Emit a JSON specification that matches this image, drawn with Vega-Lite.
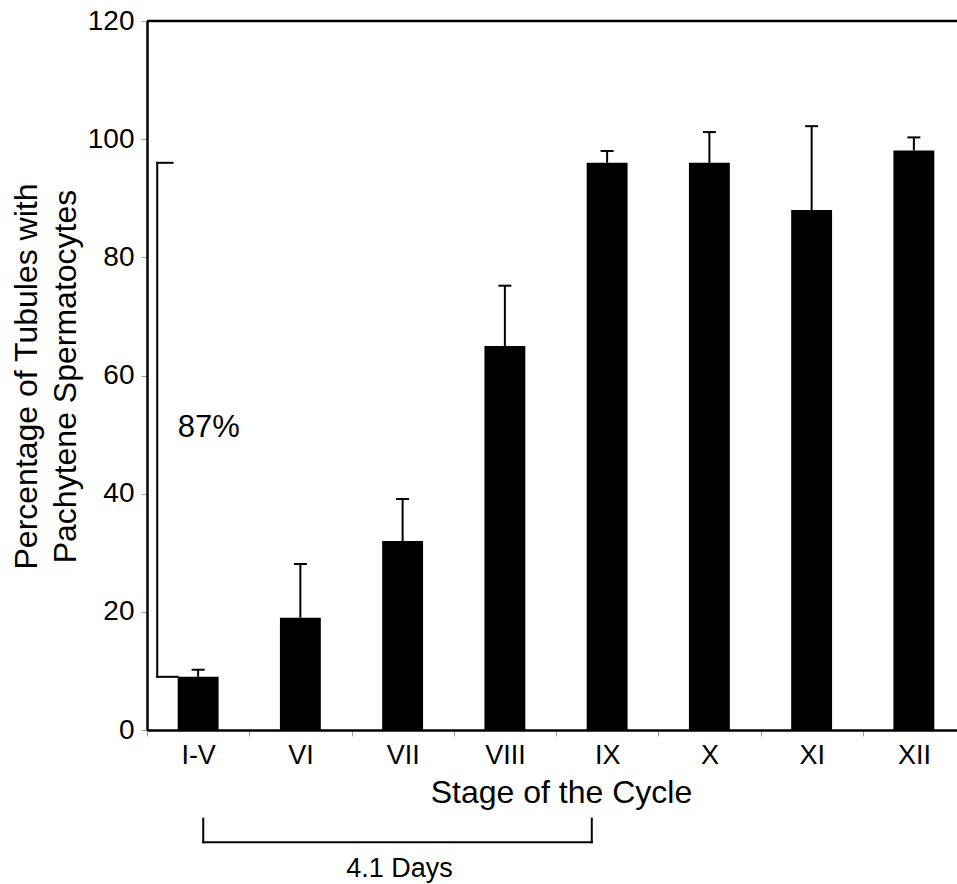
{
  "$schema": "https://vega.github.io/schema/vega-lite/v6.json",
  "width": 810,
  "height": 709,
  "autosize": {"type": "none"},
  "padding": {"left": 147, "top": 21, "right": 0, "bottom": 154},
  "background": "white",
  "config": {
    "font": "Liberation Sans",
    "view": {"stroke": null},
    "axis": {"grid": false, "labelColor": "black", "titleColor": "black", "titleFontWeight": "normal", "domainColor": "black"}
  },
  "datasets": {
    "bars": [
      {"stage": "I-V", "value": 9, "upper": 10.2},
      {"stage": "VI", "value": 19, "upper": 28.1},
      {"stage": "VII", "value": 32, "upper": 39.1},
      {"stage": "VIII", "value": 65, "upper": 75.2},
      {"stage": "IX", "value": 96, "upper": 98},
      {"stage": "X", "value": 96, "upper": 101.2},
      {"stage": "XI", "value": 88, "upper": 102.2},
      {"stage": "XII", "value": 98.1, "upper": 100.3}
    ],
    "brackets": [
      {"x": 0.1, "x2": 0.1, "y": 96, "y2": 9},
      {"x": 0.1, "x2": 0.25, "y": 96, "y2": 96},
      {"x": 0.1, "x2": 0.3, "y": 9, "y2": 9},
      {"x": 0.55, "x2": 0.55, "y": -15, "y2": -19},
      {"x": 4.35, "x2": 4.35, "y": -15, "y2": -19},
      {"x": 0.55, "x2": 4.35, "y": -19, "y2": -19}
    ],
    "border": [{"y": 120}],
    "pct": [{"label": "87%", "x": 0.3, "y": 49.6}],
    "days": [{"label": "4.1 Days", "x": 2.47, "y": -24.9}]
  },
  "resolve": {"scale": {"x": "independent"}},
  "layer": [
    {
      "data": {"name": "bars"},
      "mark": {"type": "bar", "color": "black", "width": {"band": 0.4}},
      "encoding": {
        "x": {
          "field": "stage", "type": "nominal", "sort": null,
          "scale": {"range": [0, 818], "paddingInner": 0, "paddingOuter": 0},
          "axis": {
            "title": "Stage of the Cycle",
            "labelAngle": 0, "labelFontSize": 27, "labelPadding": 6,
            "tickBand": "extent", "tickSize": 6, "tickColor": "#999999", "tickWidth": 1,
            "domainWidth": 2.5,
            "titleFontSize": 32, "titleX": 414, "titleY": 72, "titleBaseline": "alphabetic", "titleAlign": "center"
          }
        },
        "y": {
          "field": "value", "type": "quantitative",
          "scale": {"domain": [0, 120], "nice": false},
          "axis": {
            "title": ["Percentage of Tubules with", "Pachytene Spermatocytes"],
            "values": [0, 20, 40, 60, 80, 100, 120],
            "labelFontSize": 28, "labelPadding": 7,
            "tickSize": 6, "tickColor": "#999999", "tickWidth": 1,
            "domainWidth": 2.5,
            "titleFontSize": 32, "titleLineHeight": 39, "titleAngle": -90,
            "titleX": -111, "titleY": 355, "titleBaseline": "alphabetic", "titleAlign": "center"
          }
        }
      }
    },
    {
      "data": {"name": "bars"},
      "mark": {"type": "rule", "color": "black", "strokeWidth": 2},
      "encoding": {
        "x": {"field": "stage", "type": "nominal", "sort": null, "scale": {"range": [0, 818], "paddingInner": 0, "paddingOuter": 0}, "axis": null},
        "y": {"field": "value", "type": "quantitative", "scale": {"domain": [0, 120], "nice": false}},
        "y2": {"field": "upper"}
      }
    },
    {
      "data": {"name": "bars"},
      "mark": {"type": "tick", "color": "black", "thickness": 2, "size": 13, "opacity": 1},
      "encoding": {
        "x": {"field": "stage", "type": "nominal", "sort": null, "scale": {"range": [0, 818], "paddingInner": 0, "paddingOuter": 0}, "axis": null},
        "y": {"field": "upper", "type": "quantitative", "scale": {"domain": [0, 120], "nice": false}}
      }
    },
    {
      "data": {"name": "border"},
      "mark": {"type": "rule", "color": "black", "strokeWidth": 2.5},
      "encoding": {
        "y": {"field": "y", "type": "quantitative", "scale": {"domain": [0, 120], "nice": false}}
      }
    },
    {
      "data": {"name": "brackets"},
      "mark": {"type": "rule", "color": "black", "strokeWidth": 2, "strokeCap": "square"},
      "encoding": {
        "x": {"field": "x", "type": "quantitative", "scale": {"domain": [0, 8], "range": [0, 818], "nice": false, "zero": false}, "axis": null},
        "x2": {"field": "x2"},
        "y": {"field": "y", "type": "quantitative", "scale": {"domain": [0, 120], "nice": false}},
        "y2": {"field": "y2"}
      }
    },
    {
      "data": {"name": "pct"},
      "mark": {"type": "text", "color": "black", "fontSize": 31, "align": "left", "baseline": "alphabetic"},
      "encoding": {
        "x": {"field": "x", "type": "quantitative", "scale": {"domain": [0, 8], "range": [0, 818], "nice": false, "zero": false}, "axis": null},
        "y": {"field": "y", "type": "quantitative", "scale": {"domain": [0, 120], "nice": false}},
        "text": {"field": "label"}
      }
    },
    {
      "data": {"name": "days"},
      "mark": {"type": "text", "color": "black", "fontSize": 27, "align": "center", "baseline": "alphabetic"},
      "encoding": {
        "x": {"field": "x", "type": "quantitative", "scale": {"domain": [0, 8], "range": [0, 818], "nice": false, "zero": false}, "axis": null},
        "y": {"field": "y", "type": "quantitative", "scale": {"domain": [0, 120], "nice": false}},
        "text": {"field": "label"}
      }
    }
  ]
}
